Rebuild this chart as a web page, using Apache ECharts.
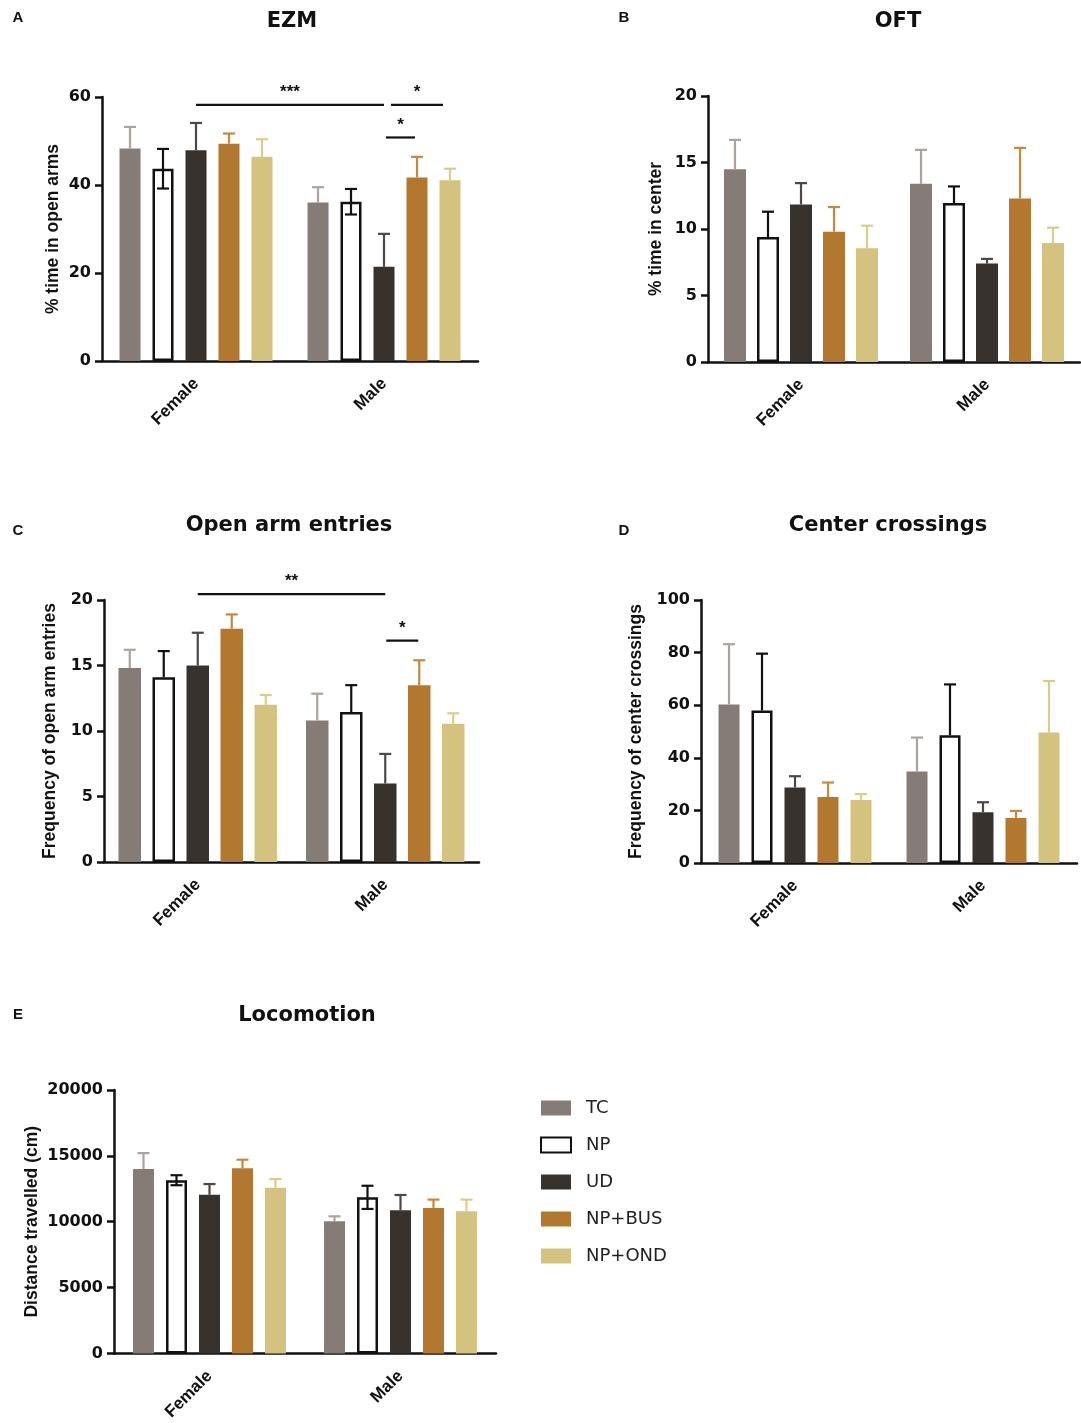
<!DOCTYPE html>
<html>
<head>
<meta charset="utf-8">
<script src="https://cdn.jsdelivr.net/npm/echarts@6/dist/echarts.min.js"></script>
<style>
html,body{margin:0;padding:0;background:#fff;}
#main{width:1081px;height:1423px;}
</style>
</head>
<body>
<div id="main"></div>
<script>
// ---------- DATA ----------
const GROUPS = ['TC', 'NP', 'UD', 'NP+BUS', 'NP+OND'];
const SEXES = ['Female', 'Male'];

// values per group: [Female, Male]
const ezmMean = [[48.3, 36.0], [43.7, 36.2], [47.9, 21.4], [49.4, 41.7], [46.4, 41.1]];
const ezmSem  = [[4.9, 3.5], [4.5, 2.9], [6.2, 7.5], [2.3, 4.7], [4.0, 2.6]];

const oftMean = [[14.5, 13.4], [9.4, 11.95], [11.85, 7.4], [9.8, 12.3], [8.55, 8.95]];
const oftSem  = [[2.2, 2.55], [1.9, 1.25], [1.6, 0.35], [1.85, 3.8], [1.7, 1.15]];

const entriesMean = [[14.8, 10.8], [14.1, 11.45], [15.0, 6.0], [17.8, 13.5], [12.0, 10.55]];
const entriesSem  = [[1.4, 2.05], [2.0, 2.05], [2.5, 2.25], [1.1, 1.9], [0.75, 0.8]];

const crossMean = [[60.3, 34.8], [58.0, 48.6], [28.7, 19.3], [25.1, 17.1], [24.0, 49.6]];
const crossSem  = [[22.9, 12.9], [21.6, 19.3], [4.3, 3.8], [5.5, 2.7], [2.2, 19.6]];

const locoMean = [[14000, 10030], [13150, 11850], [12050, 10870], [14050, 11050], [12580, 10790]];
const locoSem  = [[1210, 380], [380, 880], [810, 1160], [660, 630], [660, 890]];

// significance brackets: [sexFrom, groupFrom, sexTo, groupTo, yValue, label]
const ezmSig = [[0, 2, 1, 2, 58.2, '***'], [1, 2, 1, 4, 58.2, '*'], [1, 2, 1, 3, 50.8, '*']];
const entriesSig = [[0, 2, 1, 2, 20.45, '**'], [1, 2, 1, 3, 16.9, '*']];

// ---------- STYLE ----------
const FONT = '"Liberation Sans", Arial, Helvetica, sans-serif';
const WIDE = '"DejaVu Sans", "Liberation Sans", Arial, sans-serif';
const barColors = ['#857c77', '#ffffff', '#37322e', '#b3782f', '#d4c27f'];
const errColors = ['#aba39e', '#111111', '#4d4845', '#c5883e', '#dccb8b'];

const panels = [
  { letter: 'A', title: 'EZM', tx: 292, ty: 22, lx: 18, ly: 18,
    grid: { left: 102, top: 97, width: 376, height: 264 },
    max: 60, interval: 20, name: '% time in open arms', nameGap: 40,
    barW: 21, gapPx: 12, mean: ezmMean, sem: ezmSem, lowerNP: true, sig: ezmSig, sigInset: [0, 7, 2] },
  { letter: 'B', title: 'OFT', tx: 898, ty: 22, lx: 624, ly: 18,
    grid: { left: 708, top: 96, width: 372, height: 266 },
    max: 20, interval: 5, name: '% time in center', nameGap: 43,
    barW: 22, gapPx: 11, mean: oftMean, sem: oftSem, lowerNP: false, sig: [] },
  { letter: 'C', title: 'Open arm entries', tx: 289, ty: 526, lx: 18, ly: 531,
    grid: { left: 104, top: 600, width: 375, height: 262 },
    max: 20, interval: 5, name: 'Frequency of open arm entries', nameGap: 45,
    barW: 22.5, gapPx: 11.5, mean: entriesMean, sem: entriesSem, lowerNP: false, sig: entriesSig, sigInset: [0, 1] },
  { letter: 'D', title: 'Center crossings', tx: 888, ty: 526, lx: 624, ly: 531,
    grid: { left: 701, top: 600, width: 376, height: 263 },
    max: 100, interval: 20, name: 'Frequency of center crossings', nameGap: 56,
    barW: 21, gapPx: 12, mean: crossMean, sem: crossSem, lowerNP: false, sig: [] },
  { letter: 'E', title: 'Locomotion', tx: 307, ty: 1016, lx: 18, ly: 1015,
    grid: { left: 114, top: 1090, width: 382, height: 264 },
    max: 20000, interval: 5000, name: 'Distance travelled (cm)', nameGap: 73,
    barW: 21, gapPx: 12, mean: locoMean, sem: locoSem, lowerNP: true, sig: [] }
];

const grids = [], xAxes = [], yAxes = [], series = [], graphics = [];

panels.forEach((p, pi) => {
  grids.push(Object.assign({ containLabel: false }, p.grid));
  xAxes.push({
    type: 'category', gridIndex: pi, data: SEXES, boundaryGap: true,
    axisLine: { lineStyle: { color: '#111', width: 2.5 } },
    axisTick: { alignWithLabel: true, length: 8, lineStyle: { color: '#111', width: 2.5 } },
    axisLabel: { rotate: 45, margin: 20, color: '#111', fontFamily: FONT, fontWeight: 'bold', fontSize: 17 },
    splitLine: { show: false }
  });
  yAxes.push({
    type: 'value', gridIndex: pi, min: 0, max: p.max, interval: p.interval,
    name: p.name, nameLocation: 'middle', nameGap: p.nameGap,
    nameTextStyle: { color: '#111', fontFamily: FONT, fontWeight: 'bold', fontSize: 17.5 },
    axisLine: { show: true, lineStyle: { color: '#111', width: 2.5 } },
    axisTick: { show: true, length: 7, lineStyle: { color: '#111', width: 2.5 } },
    axisLabel: { margin: 11, color: '#111', fontFamily: WIDE, fontWeight: 'bold', fontSize: 16,
                 formatter: v => String(v) },
    splitLine: { show: false }
  });

  GROUPS.forEach((g, gi) => {
    const s = {
      type: 'bar', name: g, xAxisIndex: pi, yAxisIndex: pi,
      data: p.mean[gi],
      barWidth: p.barW,
      itemStyle: gi === 1
        ? { color: '#ffffff', borderColor: '#111', borderWidth: 2.5 }
        : { color: barColors[gi] },
      emphasis: { disabled: true },
      silent: true
    };
    if (gi === 0) s.barGap = (p.gapPx / p.barW * 100).toFixed(1) + '%';
    series.push(s);
  });

  // error bars
  const errData = [];
  GROUPS.forEach((g, gi) => {
    SEXES.forEach((sx, si) => {
      errData.push([si, gi, p.mean[gi][si], p.sem[gi][si], (gi === 1 && p.lowerNP) ? 1 : 0]);
    });
  });
  const step = p.barW + p.gapPx;
  series.push({
    type: 'custom', xAxisIndex: pi, yAxisIndex: pi, silent: true, clip: false,
    encode: { x: 0, y: 2 },
    data: errData,
    z: 3,
    renderItem: function (params, api) {
      const cat = api.value(0), gi = api.value(1), m = api.value(2), e = api.value(3), low = api.value(4);
      const cx = api.coord([cat, 0])[0] + (gi - 2) * step;
      const yTop = api.coord([cat, m + e])[1];
      const yMean = api.coord([cat, m])[1];
      const yLow = low ? api.coord([cat, m - e])[1] : yMean;
      const col = errColors[gi];
      const st = { stroke: col, lineWidth: 2.2 };
      const ch = [
        { type: 'line', shape: { x1: cx, y1: yLow, x2: cx, y2: yTop }, style: st },
        { type: 'line', shape: { x1: cx - 6, y1: yTop, x2: cx + 6, y2: yTop }, style: st }
      ];
      if (low) ch.push({ type: 'line', shape: { x1: cx - 6, y1: yLow, x2: cx + 6, y2: yLow }, style: st });
      return { type: 'group', children: ch };
    }
  });

  if (p.sig.length) {
    const insets = p.sigInset || [];
    series.push({
      type: 'custom', xAxisIndex: pi, yAxisIndex: pi, silent: true, clip: false,
      encode: { x: 0, y: 4 },
      data: p.sig.map(r => r.slice(0, 5)),
      z: 4,
      renderItem: function (params, api) {
        const r = p.sig[params.dataIndex];
        const ins = insets[params.dataIndex] || 0;
        const x1 = api.coord([r[0], 0])[0] + (r[1] - 2) * step + ins;
        const x2 = api.coord([r[2], 0])[0] + (r[3] - 2) * step - ins;
        const y = api.coord([r[0], r[4]])[1];
        return { type: 'group', children: [
          { type: 'line', shape: { x1: x1, y1: y, x2: x2, y2: y }, style: { stroke: '#111', lineWidth: 2.2 } },
          { type: 'text', x: (x1 + x2) / 2, y: y - 4,
            style: { text: r[5], align: 'center', verticalAlign: 'bottom', fill: '#111',
                     fontFamily: FONT, fontWeight: 'bold', fontSize: 17 } }
        ] };
      }
    });
  }

  graphics.push({ type: 'text', x: p.tx, y: p.ty, silent: true,
    style: { text: p.title, align: 'center', verticalAlign: 'middle', fill: '#111',
             fontFamily: WIDE, fontWeight: 'bold', fontSize: 21 } });
  graphics.push({ type: 'text', x: p.lx, y: p.ly, silent: true,
    style: { text: p.letter, align: 'center', verticalAlign: 'middle', fill: '#111',
             fontFamily: FONT, fontWeight: 'bold', fontSize: 15 } });
});

const chart = echarts.init(document.getElementById('main'), null, { renderer: 'canvas', width: 1081, height: 1423 });
chart.setOption({
  backgroundColor: '#ffffff',
  animation: false,
  grid: grids,
  xAxis: xAxes,
  yAxis: yAxes,
  legend: {
    data: GROUPS.map(n => ({ name: n, icon: 'rect' })),
    orient: 'vertical', left: 540, top: 1099, padding: 0,
    itemWidth: 30, itemHeight: 15, itemGap: 19, selectedMode: false,
    textStyle: { fontFamily: WIDE, fontSize: 18, color: '#222', padding: [0, 0, 0, 10] }
  },
  graphic: graphics,
  series: series
});
</script>
</body>
</html>
